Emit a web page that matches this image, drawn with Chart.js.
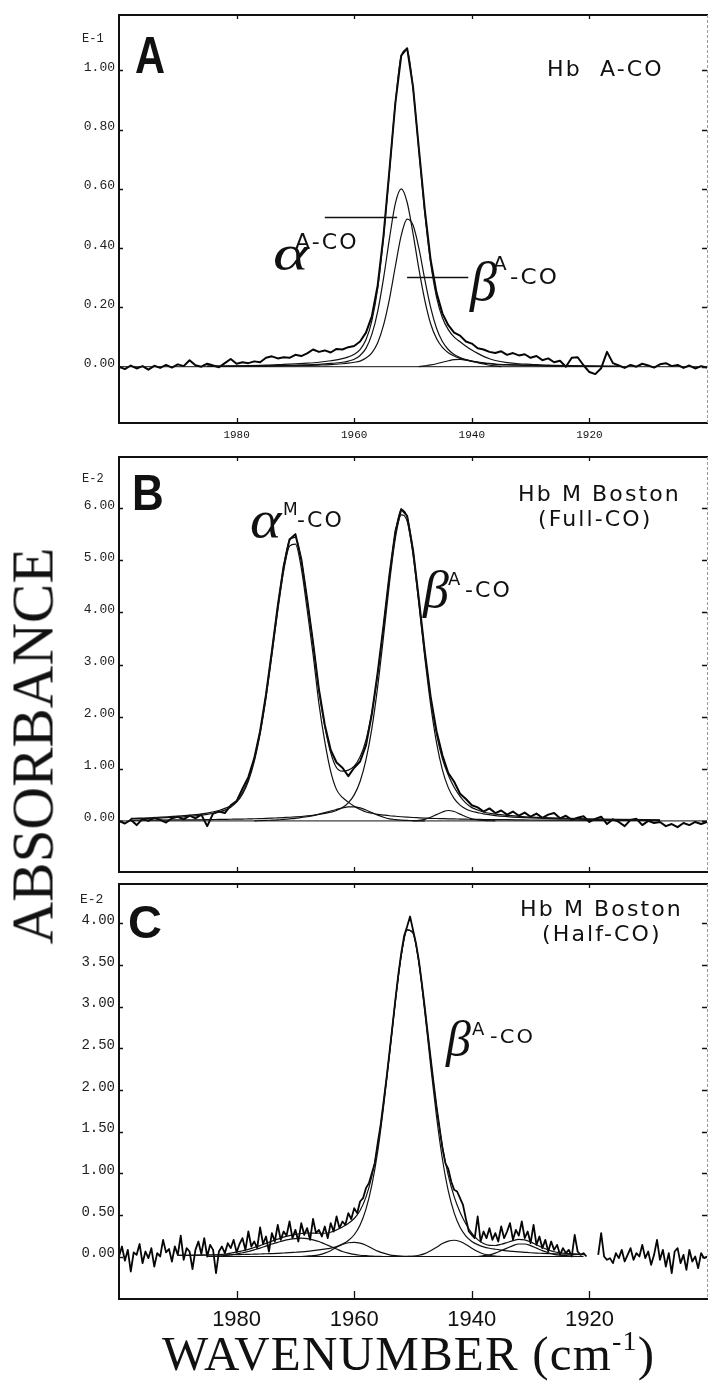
<!DOCTYPE html>
<html><head><meta charset="utf-8">
<script src="https://cdn.jsdelivr.net/npm/chart.js@4.4.1/dist/chart.umd.min.js"></script>
<style>
html,body{margin:0;padding:0;background:#fff;}
#page{position:relative;width:709px;height:1389px;overflow:hidden;background:#fff;}
canvas{position:absolute;left:0;}
.t{position:absolute;white-space:nowrap;color:#111;transform-origin:0 0;}
.geo{font-family:"DejaVu Sans",sans-serif;letter-spacing:2px;}
.gr{font-family:"Liberation Serif","Times New Roman",serif;font-style:italic;}
.pl{font-family:"Liberation Sans",Arial,sans-serif;font-weight:bold;}
.mono{font-family:"Liberation Mono","DejaVu Sans Mono",monospace;color:#222;}
.serif{font-family:"Liberation Serif","Times New Roman",serif;}
</style></head><body><div id="page">
<canvas id="cA" width="709" height="445" style="top:0px"></canvas>
<canvas id="cB" width="709" height="440" style="top:445px"></canvas>
<canvas id="cC" width="709" height="464" style="top:875px"></canvas>

<!-- panel A texts -->
<div class="t mono" style="font-size:12px;line-height:12px;left:82px;top:33px">E-1</div>
<div class="t pl" style="font-size:52px;line-height:52px;left:135px;top:29px;transform:scaleX(0.8)">A</div>
<div class="t geo" style="font-size:21px;line-height:21px;left:547px;top:59px;transform:scaleX(1.05)">Hb&nbsp;&nbsp;A-CO</div>
<div class="t gr" style="font-size:50px;line-height:50px;left:273px;top:228px;transform:scaleX(1.35)">α</div>
<div class="t geo" style="font-size:21px;line-height:21px;left:295px;top:232px;transform:scaleX(1.05)">A-CO</div>
<div class="t gr" style="font-size:54px;line-height:54px;left:470px;top:255px">β</div>
<div class="t geo" style="font-size:20px;line-height:20px;left:493px;top:253px">A</div>
<div class="t geo" style="font-size:22px;line-height:22px;left:510px;top:266px;transform:scaleX(1.05)">-CO</div>

<!-- panel B texts -->
<div class="t mono" style="font-size:12px;line-height:12px;left:82px;top:473px">E-2</div>
<div class="t pl" style="font-size:50px;line-height:50px;left:132px;top:468px;transform:scaleX(0.88)">B</div>
<div class="t geo" style="font-size:21px;line-height:21px;left:518px;top:484px;transform:scaleX(1.05)">Hb M Boston</div>
<div class="t geo" style="font-size:21px;line-height:21px;left:538px;top:509px;transform:scaleX(1.05)">(Full-CO)</div>
<div class="t gr" style="font-size:52px;line-height:52px;left:250px;top:494px;transform:scaleX(1.15)">α</div>
<div class="t geo" style="font-size:17px;line-height:17px;left:283px;top:501px">M</div>
<div class="t geo" style="font-size:21px;line-height:21px;left:297px;top:510px;transform:scaleX(1.05)">-CO</div>
<div class="t gr" style="font-size:52px;line-height:52px;left:423px;top:564px">β</div>
<div class="t geo" style="font-size:18px;line-height:18px;left:448px;top:570px">A</div>
<div class="t geo" style="font-size:21px;line-height:21px;left:465px;top:580px;transform:scaleX(1.05)">-CO</div>

<!-- panel C texts -->
<div class="t mono" style="font-size:13px;line-height:13px;left:80px;top:893px">E-2</div>
<div class="t pl" style="font-size:47px;line-height:47px;left:128px;top:898px">C</div>
<div class="t geo" style="font-size:21px;line-height:21px;left:520px;top:899px;transform:scaleX(1.05)">Hb M Boston</div>
<div class="t geo" style="font-size:21px;line-height:21px;left:542px;top:924px;transform:scaleX(1.05)">(Half-CO)</div>
<div class="t gr" style="font-size:50px;line-height:50px;left:446px;top:1014px">β</div>
<div class="t geo" style="font-size:18px;line-height:18px;left:472px;top:1020px">A</div>
<div class="t geo" style="font-size:20px;line-height:20px;left:490px;top:1026px;transform:scaleX(1.05)">-CO</div>

<!-- axis titles -->
<div class="t serif" style="font-size:59px;line-height:59px;left:33px;top:746px;transform-origin:50% 50%;transform:translate(-50%,-50%) rotate(-90deg)">ABSORBANCE</div>
<div class="t serif" style="font-size:49px;line-height:49px;left:162px;top:1329px;letter-spacing:1.2px">WAVENUMBER (cm<span style="font-size:28px;position:relative;top:-20px">-1</span>)</div>
</div>

<script>
// ---------- shared axis ticks ----------
const xTicks = [1980, 1960, 1940, 1920];
const yTicksA = [0, 0.2, 0.4, 0.6, 0.8, 1.0];
const yTicksB = [0, 1, 2, 3, 4, 5, 6];
const yTicksC = [0, 0.5, 1, 1.5, 2, 2.5, 3, 3.5, 4];

// ---------- Panel A : Hb A-CO (absorbance x 1E-1) ----------
const aObs = [
 0.000,-0.008,0.004,-0.006,0.002,-0.010,0.003,-0.004,0.006,-0.003,
 0.008,0.002,0.022,0.005,0.000,0.010,0.004,-0.002,0.012,0.026,
 0.010,0.015,0.012,0.018,0.015,0.030,0.035,0.028,0.032,0.030,
 0.040,0.036,0.045,0.058,0.050,0.055,0.048,0.060,0.058,0.066,
 0.070,0.085,0.115,0.170,0.275,0.445,0.665,0.890,1.050,1.075,
 0.945,0.735,0.530,0.360,0.250,0.180,0.140,0.115,0.105,0.085,
 0.078,0.062,0.058,0.050,0.046,0.052,0.040,0.046,0.038,0.042,
 0.030,0.036,0.022,0.028,0.015,0.020,0.000,0.030,0.032,0.005,
 -0.018,-0.025,-0.005,0.050,0.012,0.004,-0.004,0.006,0.000,0.010,
 0.004,-0.003,0.008,0.012,0.002,0.006,-0.004,0.004,-0.006,0.002,
 -0.003];
const aFitWn = [1985,1980,1975,1972,1970,1968,1966,1964,1962,1961,1960,1959,1958,1957,1956,1955,1954,1953,1952,1951,1950,1949,1948,1947,1946,1945,1944,1943,1942,1941,1940,1939,1938,1937,1936,1934,1932,1930,1927,1922,1915];
const aTotal = [0.002,0.003,0.005,0.008,0.010,0.012,0.015,0.020,0.027,0.033,0.042,0.058,0.091,0.155,0.265,0.44,0.66,0.89,1.05,1.07,0.94,0.73,0.52,0.35,0.235,0.165,0.125,0.10,0.084,0.069,0.056,0.045,0.035,0.027,0.021,0.014,0.010,0.008,0.005,0.003,0.001];
const aAlpha = [0.001,0.002,0.003,0.004,0.005,0.006,0.008,0.011,0.015,0.019,0.025,0.038,0.062,0.109,0.187,0.300,0.433,0.551,0.600,0.555,0.450,0.330,0.225,0.145,0.095,0.065,0.047,0.036,0.028,0.022,0.018,0.015,0.012,0.010,0.008,0.006,0.005,0.004,0.003,0.002,0.001];
const aBeta = [0.001,0.0015,0.002,0.003,0.0035,0.0045,0.0055,0.007,0.010,0.012,0.015,0.019,0.029,0.047,0.081,0.141,0.229,0.339,0.443,0.498,0.478,0.400,0.295,0.200,0.130,0.085,0.058,0.041,0.031,0.024,0.019,0.016,0.013,0.011,0.009,0.007,0.006,0.005,0.003,0.002,0.001];
const aSmallWn = [1949,1948,1947,1946,1945,1944,1943,1942,1941,1940,1939,1938,1937,1936,1935];
const aSmall = [0,0.003,0.006,0.010,0.015,0.020,0.024,0.025,0.023,0.019,0.014,0.009,0.005,0.003,0];
const aLeaders = [[1965.0, 1952.7, 0.506], [1951.0, 1940.6, 0.304]];

// ---------- Panel B : Hb M Boston full-CO (x 1E-2) ----------
const bObs = [
 0.00,-0.05,0.02,-0.08,0.04,0.00,0.06,0.02,-0.03,0.05,
 0.08,0.03,0.10,0.05,0.12,-0.10,0.14,0.18,0.15,0.30,
 0.38,0.62,0.84,1.20,1.72,2.42,3.25,4.12,4.88,5.40,
 5.50,5.02,4.25,3.42,2.52,1.84,1.36,1.12,1.02,0.86,
 1.02,1.14,1.45,2.05,2.85,3.75,4.72,5.55,5.98,5.85,
 5.20,4.25,3.25,2.38,1.72,1.26,0.92,0.75,0.52,0.42,
 0.30,0.26,0.18,0.24,0.15,0.20,0.12,0.18,0.10,0.16,
 0.08,0.14,0.06,0.12,0.15,0.05,0.10,0.02,0.06,0.09,
 -0.02,0.04,0.08,-0.06,0.03,-0.02,-0.10,0.02,0.04,-0.08,
 0.00,-0.04,-0.02,-0.10,-0.06,-0.12,-0.04,-0.08,-0.02,-0.06,
 -0.02];
const bFitWn = [1998,1994,1990,1987,1985,1983,1982,1981,1980,1979,1978,1977,1976,1975,1974,1973,1972,1971,1970,1969,1968,1967,1966,1965,1964,1963,1962,1961,1960,1959,1958,1957,1956,1955,1954,1953,1952,1951,1950,1949,1948,1947,1946,1945,1944,1943,1942,1941,1940,1939,1938,1936,1934,1932,1930,1925,1920,1915,1908];
const bTotal = [0.05,0.065,0.09,0.12,0.15,0.20,0.24,0.29,0.39,0.55,0.80,1.18,1.71,2.42,3.25,4.11,4.88,5.38,5.44,5.00,4.23,3.41,2.50,1.82,1.31,1.02,0.955,0.975,1.05,1.23,1.55,2.08,2.82,3.73,4.70,5.53,5.97,5.83,5.18,4.23,3.23,2.35,1.67,1.19,0.88,0.645,0.47,0.34,0.255,0.21,0.17,0.13,0.105,0.088,0.074,0.052,0.038,0.029,0.021];
const bAlpha = [0.04,0.05,0.071,0.096,0.125,0.171,0.206,0.262,0.359,0.514,0.762,1.138,1.67,2.36,3.18,4.03,4.79,5.27,5.31,4.85,4.05,3.20,2.25,1.52,0.95,0.60,0.45,0.36,0.28,0.22,0.17,0.147,0.126,0.112,0.099,0.089,0.080,0.072,0.065,0.060,0.055,0.050,0.046,0.043,0.040,0.038,0.035,0.033,0.030,0.029,0.027,0.025,0.023,0.020,0.017,0.014,0.011,0.009,0.007];
const bBeta = [0.013,0.015,0.018,0.021,0.024,0.028,0.030,0.032,0.033,0.036,0.038,0.041,0.044,0.047,0.052,0.058,0.064,0.070,0.077,0.085,0.095,0.107,0.123,0.143,0.167,0.200,0.255,0.345,0.499,0.757,1.17,1.77,2.58,3.55,4.56,5.42,5.87,5.75,5.11,4.16,3.14,2.23,1.50,0.98,0.638,0.427,0.303,0.230,0.185,0.160,0.135,0.103,0.083,0.068,0.057,0.038,0.027,0.020,0.014];
const bS1Wn = [1977,1975,1974,1973,1972,1971,1970,1969,1968,1967,1966,1965,1964,1963,1962,1961,1960,1959,1958,1957,1956,1955,1954,1953,1952,1951,1950,1948];
const bS1 = [0,0.01,0.015,0.02,0.03,0.04,0.05,0.065,0.08,0.10,0.13,0.16,0.19,0.22,0.25,0.27,0.27,0.25,0.21,0.16,0.11,0.07,0.04,0.025,0.015,0.01,0.005,0];
const bS2Wn = [1950,1949,1948,1947,1946,1945,1944,1943,1942,1941,1940,1939,1938,1936];
const bS2 = [0,0.01,0.03,0.07,0.12,0.17,0.20,0.18,0.13,0.08,0.04,0.02,0.01,0];

// ---------- Panel C : Hb M Boston half-CO (x 1E-2), 0.5 cm-1 sampling ----------
const cObs = [
 0.00,0.12,-0.05,0.08,-0.18,0.05,0.02,0.15,-0.08,0.06,
 -0.02,0.10,-0.12,0.04,0.00,0.20,0.05,0.09,-0.06,0.12,
 0.02,0.25,-0.04,0.10,0.06,-0.15,0.08,0.18,0.03,0.22,
 0.00,0.14,0.08,-0.20,0.06,0.12,0.04,0.16,0.10,0.20,
 0.05,0.15,0.22,0.08,0.30,0.12,0.18,0.10,0.35,0.15,
 0.24,0.06,0.28,0.18,0.38,0.20,0.30,0.25,0.42,0.22,
 0.32,0.18,0.40,0.26,0.34,0.20,0.45,0.28,0.32,0.24,
 0.36,0.22,0.40,0.30,0.48,0.34,0.42,0.38,0.52,0.45,
 0.58,0.52,0.66,0.70,0.82,0.88,1.00,1.12,1.36,1.58,
 1.86,2.14,2.45,2.76,3.08,3.38,3.64,3.85,3.96,4.08,
 3.92,3.76,3.55,3.28,2.99,2.68,2.38,2.08,1.80,1.55,
 1.30,1.12,1.05,0.90,0.80,0.78,0.70,0.62,0.45,0.30,
 0.26,0.22,0.48,0.18,0.30,0.22,0.34,0.20,0.28,0.18,
 0.36,0.22,0.30,0.40,0.20,0.32,0.25,0.42,0.22,0.30,
 0.16,0.38,0.14,0.24,0.10,0.20,0.06,0.18,0.08,0.14,
 0.02,0.10,0.04,0.08,0.00,0.26,0.06,0.02,0.04,0.00,
 null,null,null,0.02,0.28,0.00,-0.04,-0.02,-0.08,0.04,
 -0.02,0.08,-0.06,0.02,0.10,-0.04,0.04,0.00,0.14,-0.02,
 0.06,-0.10,0.02,0.20,-0.04,0.08,-0.12,0.04,-0.20,0.06,
 0.10,-0.08,0.02,-0.16,0.08,-0.06,0.00,-0.14,0.04,-0.02,
 0.00];
const cFitWn = [1990,1986,1983,1982,1981,1980,1979,1978,1977,1976,1975,1974,1973,1972,1971,1970,1969,1968,1967,1966,1965,1964,1963,1962,1961,1960,1959,1958,1957,1956,1955,1954,1953,1952,1951,1950,1949,1948,1947,1946,1945,1944,1943,1942,1941,1940,1939,1938,1937,1936,1935,1934,1933,1932,1931,1930,1929,1928,1927,1926,1925,1924,1921];
const cTotal = [0.013,0.016,0.024,0.030,0.041,0.053,0.069,0.086,0.108,0.130,0.158,0.185,0.208,0.232,0.251,0.266,0.276,0.282,0.280,0.279,0.279,0.291,0.319,0.354,0.397,0.456,0.553,0.713,0.961,1.325,1.84,2.44,3.07,3.615,3.92,3.885,3.535,2.975,2.36,1.79,1.325,0.973,0.718,0.530,0.390,0.281,0.203,0.156,0.134,0.132,0.147,0.168,0.191,0.205,0.200,0.175,0.141,0.108,0.080,0.057,0.045,0.038,0.024];
const cBeta = [0.013,0.016,0.019,0.020,0.021,0.023,0.024,0.026,0.028,0.030,0.033,0.035,0.038,0.042,0.046,0.051,0.056,0.062,0.070,0.079,0.089,0.101,0.119,0.149,0.192,0.261,0.378,0.568,0.856,1.26,1.80,2.42,3.06,3.61,3.92,3.88,3.52,2.94,2.29,1.68,1.17,0.788,0.523,0.350,0.245,0.181,0.143,0.116,0.099,0.087,0.077,0.068,0.061,0.055,0.050,0.045,0.041,0.038,0.035,0.032,0.030,0.028,0.022];
const cS1Wn = [1984,1982,1981,1980,1979,1978,1977,1976,1975,1974,1973,1972,1971,1970,1969,1968,1967,1966,1965,1964,1963,1962,1961,1960,1959,1958,1957,1955];
const cS1 = [0,0.01,0.02,0.03,0.045,0.06,0.08,0.10,0.125,0.15,0.17,0.19,0.205,0.215,0.22,0.215,0.20,0.18,0.15,0.12,0.09,0.06,0.04,0.025,0.015,0.01,0.005,0];
const cS2Wn = [1969,1968,1967,1966,1965,1964,1963,1962,1961,1960,1959,1958,1957,1956,1955,1954,1953,1952,1950];
const cS2 = [0,0.005,0.01,0.02,0.04,0.07,0.11,0.145,0.165,0.17,0.16,0.135,0.10,0.065,0.04,0.02,0.01,0.005,0];
const cS3Wn = [1951,1950,1949,1948,1947,1946,1945,1944,1943,1942,1941,1940,1939,1938,1937,1936,1935];
const cS3 = [0,0.005,0.015,0.035,0.07,0.11,0.155,0.185,0.195,0.18,0.145,0.10,0.06,0.03,0.015,0.005,0];
const cS4Wn = [1939,1938,1937,1936,1935,1934,1933,1932,1931,1930,1929,1928,1927,1926,1925,1924,1922];
const cS4 = [0,0.01,0.02,0.04,0.07,0.10,0.13,0.15,0.15,0.13,0.10,0.07,0.045,0.025,0.015,0.01,0];

// baselines
const baseWnAB = [2000, 1900];
const baseWnC = [1985, 1921];
const baseVal = [0, 0];

// ---------- helpers ----------
function grid(start, stop, step) {
  const out = [];
  for (let v = start; v >= stop - 1e-9; v -= step) out.push(Math.round(v * 10) / 10);
  return out;
}
function pts(xs, ys) { return xs.map((x, i) => ({x: x, y: ys[i]})); }

const INK = '#111';
function fit(xs, ys, w) {
  return {data: pts(xs, ys), borderColor: INK, borderWidth: w || 1.2, pointRadius: 0,
          cubicInterpolationMode: 'monotone', fill: false};
}
function obs(xs, ys, w) {
  return {data: pts(xs, ys), borderColor: '#050505', borderWidth: w || 2, pointRadius: 0,
          tension: 0, fill: false, spanGaps: false, borderJoinStyle: 'round'};
}
function base(xs) {
  return {data: pts(xs, baseVal), borderColor: INK, borderWidth: 1, pointRadius: 0, tension: 0, fill: false};
}

const framePlugin = {
  id: 'frame',
  afterDatasetsDraw(chart, args, o) {
    const {ctx, chartArea: a, scales: {x, y}} = chart;
    ctx.save();
    ctx.strokeStyle = INK;
    ctx.lineWidth = 2;
    ctx.beginPath();
    ctx.moveTo(a.right + 1, a.top); ctx.lineTo(a.left, a.top);
    ctx.lineTo(a.left, a.bottom); ctx.lineTo(a.right + 1, a.bottom);
    ctx.stroke();
    ctx.lineWidth = 1.3;
    ctx.beginPath();
    y.ticks.forEach(t => {
      const p = Math.round(y.getPixelForValue(t.value)) + 0.5;
      ctx.moveTo(a.left, p); ctx.lineTo(a.left + 4, p);
      ctx.moveTo(a.right, p); ctx.lineTo(a.right - 5, p);
    });
    x.ticks.forEach(t => {
      const p = Math.round(x.getPixelForValue(t.value)) + 0.5;
      ctx.moveTo(p, a.top); ctx.lineTo(p, a.top + 4);
      ctx.moveTo(p, a.bottom); ctx.lineTo(p, a.bottom - (o.tickBottom || 5));
    });
    ctx.stroke();
    ctx.strokeStyle = '#9a9a9a'; ctx.lineWidth = 1; ctx.setLineDash([3, 2]);
    ctx.beginPath(); ctx.moveTo(a.right + 0.5, a.top); ctx.lineTo(a.right + 0.5, a.bottom); ctx.stroke();
    ctx.setLineDash([]);
    if (o.leaders) {
      ctx.strokeStyle = INK; ctx.lineWidth = 1.3;
      ctx.beginPath();
      o.leaders.forEach(L => {
        const py = Math.round(y.getPixelForValue(L[2])) + 0.5;
        ctx.moveTo(x.getPixelForValue(L[0]), py); ctx.lineTo(x.getPixelForValue(L[1]), py);
      });
      ctx.stroke();
    }
    ctx.restore();
  }
};

const monoFam = '"Liberation Mono", "DejaVu Sans Mono", monospace';

function panel(id, c) {
  return new Chart(document.getElementById(id), {
    type: 'line',
    data: {datasets: c.datasets},
    options: {
      responsive: false, animation: false, devicePixelRatio: 1,
      events: [],
      layout: {padding: {left: 0, right: 2, top: c.padTop, bottom: 0}},
      plugins: {legend: {display: false}, tooltip: {enabled: false},
                frame: {tickBottom: c.tickBottom, leaders: c.leaders || null}},
      scales: {
        x: {
          type: 'linear', min: 1900, max: 2000, reverse: true,
          afterBuildTicks: s => { s.ticks = xTicks.map(v => ({value: v})); },
          afterFit: s => { s.height = c.xHeight; s.paddingLeft = 0; s.paddingRight = 0; },
          grid: {display: false, drawTicks: false}, border: {display: false},
          ticks: {display: c.xLabels, autoSkip: false, maxRotation: 0, minRotation: 0,
                  padding: c.xPad, font: c.xFont, color: '#111', callback: v => String(v)}
        },
        y: {
          type: 'linear', min: c.ymin, max: c.ymax,
          afterBuildTicks: s => { s.ticks = c.yTicks.map(v => ({value: v})); },
          afterFit: s => { s.width = 119; s.paddingTop = 0; s.paddingBottom = 0; },
          grid: {display: false, drawTicks: false}, border: {display: false},
          ticks: {padding: 4, labelOffset: -3, font: c.yFont, color: '#222',
                  callback: v => Number(v).toFixed(2)}
        }
      }
    },
    plugins: [framePlugin]
  });
}

panel('cA', {
  padTop: 15, xHeight: 22, xLabels: true, xPad: 5, tickBottom: 5,
  xFont: {family: monoFam, size: 11}, yFont: {family: monoFam, size: 13},
  ymin: -0.19, ymax: 1.187, yTicks: yTicksA, leaders: aLeaders,
  datasets: [
    base(baseWnAB),
    fit(aSmallWn, aSmall), fit(aFitWn, aBeta), fit(aFitWn, aAlpha), fit(aFitWn, aTotal),
    obs(grid(2000, 1900, 1), aObs, 2)
  ]
});

panel('cB', {
  padTop: 12, xHeight: 13, xLabels: false, xPad: 0, tickBottom: 5,
  xFont: {family: monoFam, size: 11}, yFont: {family: monoFam, size: 13},
  ymin: -0.98, ymax: 6.98, yTicks: yTicksB,
  datasets: [
    base(baseWnAB),
    fit(bS1Wn, bS1), fit(bS2Wn, bS2), fit(bFitWn, bBeta), fit(bFitWn, bAlpha), fit(bFitWn, bTotal),
    obs(grid(2000, 1900, 1), bObs, 2)
  ]
});

panel('cC', {
  padTop: 9, xHeight: 40, xLabels: true, xPad: 8, tickBottom: 8,
  xFont: {family: '"Liberation Sans", Arial, sans-serif', size: 22}, yFont: {family: monoFam, size: 14},
  ymin: -0.51, ymax: 4.47, yTicks: yTicksC,
  datasets: [
    base(baseWnC),
    fit(cS1Wn, cS1), fit(cS2Wn, cS2), fit(cS3Wn, cS3), fit(cS4Wn, cS4),
    fit(cFitWn, cBeta), fit(cFitWn, cTotal),
    obs(grid(2000, 1900, 0.5), cObs, 1.8)
  ]
});
</script>
</body></html>
